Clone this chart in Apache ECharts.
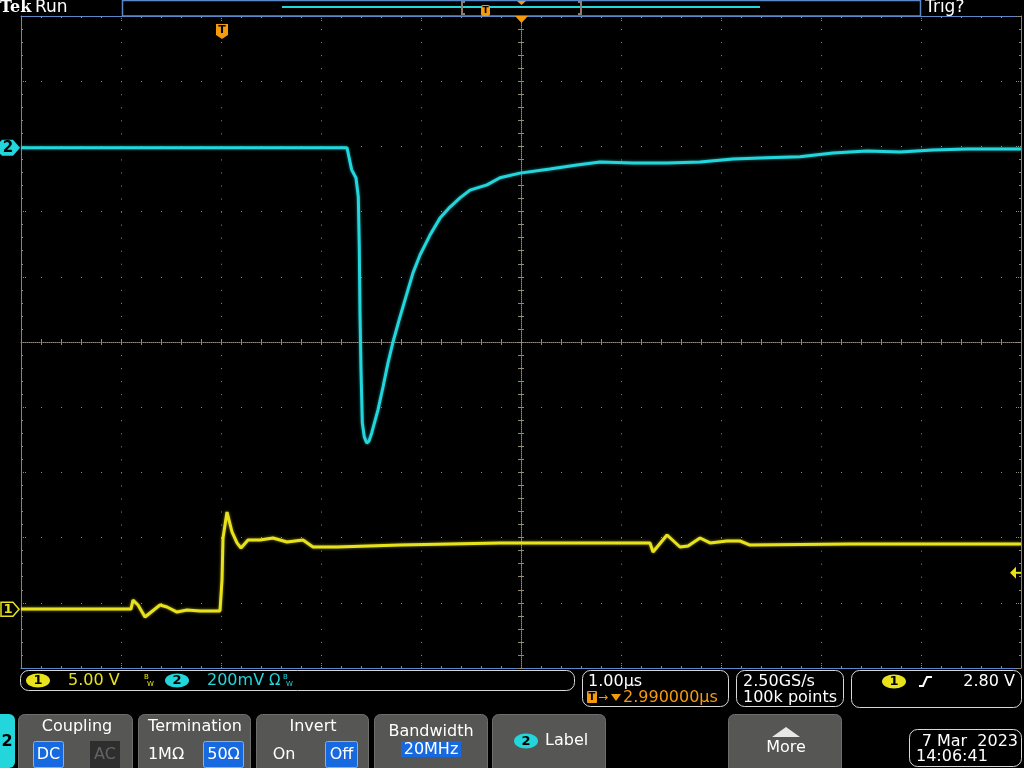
<!DOCTYPE html>
<html><head><meta charset="utf-8">
<script src="https://cdn.jsdelivr.net/npm/echarts@6/dist/echarts.min.js"></script>
<style>html,body{margin:0;padding:0;background:#000;}#c{width:1024px;height:768px;}</style>
</head><body><div id="c"></div><script>
// ---- data (time in µs relative to trigger) ----
const ch1Time  = [-2.0,-1.0,-0.9,-0.88,-0.83,-0.76,-0.71,-0.61,-0.54,-0.44,-0.34,-0.21,-0.01,0.01,0.02,0.06,0.11,0.16,0.20,0.27,0.39,0.52,0.66,0.82,0.92,1.16,1.79,2.79,3.79,4.29,4.32,4.46,4.59,4.67,4.79,4.89,5.06,5.19,5.29,6.29,8.0];
const ch1Volts = [0.02,0.02,0.02,0.71,0.33,-0.59,-0.28,0.33,0.18,-0.21,-0.05,-0.13,-0.13,2.25,5.47,7.46,5.93,5.09,4.70,5.32,5.32,5.47,5.16,5.32,4.78,4.78,4.93,5.09,5.09,5.09,4.39,5.70,4.78,4.86,5.47,5.09,5.24,5.24,4.93,5.01,5.01];
const ch2Time  = [-2.0,0,1.0,1.26,1.267,1.307,1.35,1.357,1.373,1.383,1.39,1.40,1.413,1.433,1.457,1.48,1.507,1.57,1.62,1.67,1.72,1.79,1.86,1.92,1.99,2.09,2.19,2.29,2.39,2.49,2.66,2.79,2.99,3.29,3.56,3.79,4.12,4.46,4.79,5.12,5.46,5.79,6.12,6.46,6.79,7.12,7.46,8.0];
const ch2mV    = [0,0,0,0,-4,-68,-93,-99,-151,-305,-507,-682,-844,-887,-906,-900,-875,-804,-734,-660,-596,-519,-446,-384,-329,-268,-216,-182,-154,-130,-114,-92,-78,-65,-53,-44,-47,-47,-44,-35,-31,-28,-16,-10,-13,-7,-4,-4];
const ch1Scale = 5;      // V/div
const ch2Scale = 200;    // mV/div
const ch1Pos = -4.1;     // div
const ch2Pos = 2.98;     // div
const trigLevel = 2.80;  // V on ch1
const timeMin = -2, timeMax = 8;   // µs
const divMin = -5, divMax = 5;

const ch1Data = ch1Time.map((t,i)=>[t, ch1Pos + ch1Volts[i]/ch1Scale]);
const ch2Data = ch2Time.map((t,i)=>[t, ch2Pos + ch2mV[i]/ch2Scale]);

const dotColor = '#948a79';
const borderColor = '#5a88c8';
const cyan = '#22d6dc';
const yellow = '#e8e21c';
const orange = '#f59a0c';
const FONT = "'DejaVu Sans', sans-serif";

function baseX(extra){
  return Object.assign({type:'value',min:timeMin,max:timeMax,interval:1,
    axisLabel:{show:false},splitLine:{show:false}}, extra);
}
function baseY(extra){
  return Object.assign({type:'value',min:divMin,max:divMax,interval:1,
    axisLabel:{show:false},splitLine:{show:false}}, extra);
}
const chart = echarts.init(document.getElementById('c'), null, {renderer:'canvas'});
const option = {
  backgroundColor:'#000',
  animation:false,
  grid:{left:21,top:16,width:1000,height:652,containLabel:false},
  xAxis:[
    baseX({position:'bottom',
      axisLine:{onZero:false,lineStyle:{color:borderColor,width:1}},
      axisTick:{show:true,inside:true,length:5,lineStyle:{color:dotColor,type:[1,1]}},
      minorTick:{show:true,splitNumber:5,length:2,lineStyle:{color:dotColor}},
      splitLine:{show:true,lineStyle:{color:dotColor,width:1,type:[1,12.04]}}}),
    baseX({position:'top',
      axisLine:{onZero:false,lineStyle:{color:borderColor,width:1}},
      axisTick:{show:true,inside:true,length:5,lineStyle:{color:dotColor,type:[1,1]}},
      minorTick:{show:true,splitNumber:5,length:2,lineStyle:{color:dotColor}}}),
    baseX({position:'bottom',offset:-326,
      axisLine:{show:true,onZero:false,lineStyle:{color:dotColor,width:1,type:[1,1]}},
      axisTick:{show:true,inside:true,length:3,lineStyle:{color:dotColor}},
      minorTick:{show:true,splitNumber:5,length:3,lineStyle:{color:dotColor}}}),
    baseX({position:'bottom',offset:-326,
      axisLine:{show:false,onZero:false},
      axisTick:{show:true,inside:false,length:3,lineStyle:{color:dotColor}},
      minorTick:{show:true,splitNumber:5,length:3,lineStyle:{color:dotColor}}})
  ],
  yAxis:[
    baseY({position:'left',
      axisLine:{onZero:false,lineStyle:{color:borderColor,width:1}},
      axisTick:{show:true,inside:true,length:5,lineStyle:{color:dotColor,type:[1,1]}},
      minorTick:{show:true,splitNumber:5,length:2,lineStyle:{color:dotColor}},
      splitLine:{show:true,lineStyle:{color:dotColor,width:1,type:[1,19]}}}),
    baseY({position:'right',
      axisLine:{onZero:false,lineStyle:{color:borderColor,width:1}},
      axisTick:{show:true,inside:true,length:5,lineStyle:{color:dotColor,type:[1,1]}},
      minorTick:{show:true,splitNumber:5,length:2,lineStyle:{color:dotColor}}}),
    baseY({position:'left',offset:-500,
      axisLine:{show:true,onZero:false,lineStyle:{color:dotColor,width:1,type:[1,1]}},
      axisTick:{show:true,inside:true,length:3,lineStyle:{color:dotColor}},
      minorTick:{show:true,splitNumber:5,length:3,lineStyle:{color:dotColor}}}),
    baseY({position:'left',offset:-500,
      axisLine:{show:false,onZero:false},
      axisTick:{show:true,inside:false,length:3,lineStyle:{color:dotColor}},
      minorTick:{show:true,splitNumber:5,length:3,lineStyle:{color:dotColor}}})
  ],
  series:[
    {name:'CH1',type:'line',xAxisIndex:0,yAxisIndex:0,data:ch1Data,showSymbol:false,z:5,
      lineStyle:{color:yellow,width:3,shadowColor:'rgba(232,226,28,0.6)',shadowBlur:3}},
    {name:'CH2',type:'line',xAxisIndex:0,yAxisIndex:0,data:ch2Data,showSymbol:false,z:6,
      lineStyle:{color:cyan,width:3,shadowColor:'rgba(34,214,220,0.6)',shadowBlur:3}}
  ]
};
chart.setOption(option);

// ---- UI chrome ----
const g = [];
function rect(x,y,w,h,fill,stroke,r,lw){g.push({type:'rect',z:100,shape:{x,y,width:w,height:h,r:r||0},style:{fill:fill||'none',stroke:stroke||null,lineWidth:lw||1}});}
function text(x,y,s,color,size,align,weight,font){g.push({type:'text',z:101,x,y,style:{text:s,fill:color,font:(weight||'normal')+' '+size+'px '+(font||FONT),align:align||'left',verticalAlign:'middle'}});}
function poly(pts,fill){g.push({type:'polygon',z:100,shape:{points:pts},style:{fill}});}
function pline(pts,stroke,lw){g.push({type:'polyline',z:100,shape:{points:pts},style:{stroke,lineWidth:lw||1,fill:null}});}
function ellipse(cx,cy,rx,ry,fill){g.push({type:'ellipse',z:100,shape:{cx,cy,rx,ry},style:{fill}});}

// top bar
text(0,8,'Tek','#ffffff',16,'left','bold',"'DejaVu Serif', serif");
text(35,8,'Run','#ffffff',17,'left');
rect(122.5,0.5,798,15.5,'#000',borderColor,0,1.5);
pline([[282,7],[760,7]],cyan,2);
pline([[465,2],[462,2],[462,14],[465,14]],'#8a8070',2);
pline([[578,2],[581,2],[581,14],[578,14]],'#8a8070',2);
rect(481,5,9,11,orange,null,2);
text(485.5,10.5,'T','#000',9,'center','bold');
poly([[517,1],[526,1],[521.5,5]],orange);
poly([[515,16],[528,16],[521.5,23]],orange);
text(925,8,'Trig?','#ffffff',17,'left');
// trigger position marker
poly([[216,24],[228,24],[228,35],[222,39],[216,35]],orange);
text(222,30,'T','#000',11,'center','bold');

// channel markers
const y2 = chart.convertToPixel({yAxisIndex:0}, ch2Pos);
const y1 = chart.convertToPixel({yAxisIndex:0}, ch1Pos);
const yT = chart.convertToPixel({yAxisIndex:0}, ch1Pos + trigLevel/ch1Scale);
poly([[2,y2-8],[13,y2-8],[20,y2],[13,y2+8],[2,y2+8],[0,y2+6],[0,y2-6]],cyan);
text(8,y2+0.5,'2','#000',15,'center','bold');
g.push({type:'polygon',z:100,shape:{points:[[1,y1-7],[13,y1-7],[19,y1],[13,y1+7],[1,y1+7]]},style:{fill:'#000',stroke:yellow,lineWidth:1.5}});
text(8,y1+0.5,'1',yellow,13,'center','bold');
poly([[1010,yT],[1016,yT-6],[1016,yT+6]],yellow);
pline([[1016,yT],[1021,yT]],yellow,2);

// status row
rect(20.5,670.5,554,20,null,'#d8d8d8',8,1);
ellipse(38,680.5,12,7,yellow);
text(38,681,'1','#000',13,'center','bold');
text(68,681,'5.00 V',yellow,16,'left');
text(144,677,'B',yellow,7,'left');
text(147,684,'W',yellow,7,'left');
ellipse(177,680.5,12,7,cyan);
text(177,681,'2','#000',13,'center','bold');
text(207,681,'200mV',cyan,16,'left');
text(269,681,'Ω',cyan,15,'left');
text(283,677,'B',cyan,7,'left');
text(286,684,'W',cyan,7,'left');

rect(582.5,670.5,146,36,null,'#d8d8d8',8,1);
text(588,682,'1.00µs','#ffffff',16,'left');
rect(587,691,10,12,orange,null,1);
text(592,697.5,'T','#000',10,'center','bold');
text(598,698,'→',orange,12,'left');
poly([[611,694],[621,694],[616,701]],orange);
text(623,698,'2.990000µs',orange,16,'left');

rect(736.5,670.5,107,36,null,'#d8d8d8',8,1);
text(743,682,'2.50GS/s','#ffffff',16,'left');
text(743,698,'100k points','#ffffff',16,'left');

rect(851.5,670.5,170,37,null,'#d8d8d8',8,1);
ellipse(894,681.5,12,7,yellow);
text(894,682,'1','#000',13,'center','bold');
pline([[919,686],[923,686],[927,677],[932,677]],'#ffffff',2);
text(1015,682,'2.80 V','#ffffff',16,'right');

// side tab
g.push({type:'rect',z:100,shape:{x:0,y:714,width:15,height:54,r:[0,6,6,0]},style:{fill:cyan}});
text(7,742,'2','#000',16,'center','bold');

// buttons
const btnFill='#565654', btnStroke='#6e6e6c';
function button(x,w){g.push({type:'rect',z:100,shape:{x:x+0.5,y:714.5,width:w,height:60,r:6},style:{fill:btnFill,stroke:btnStroke,lineWidth:1}});}
function selBox(x,y,w,h,label){rect(x+0.5,y+0.5,w,h,'#1769e0','#7ab0ff',2,1);text(x+w/2+0.5,y+h/2+1,label,'#ffffff',16,'center');}
button(18,114);
text(77,727,'Coupling','#ffffff',16,'center');
selBox(33,741,30,26,'DC');
rect(90,741,30,27,'#2e2e2e',null,0);
text(105,755,'AC','#646464',16,'center');

button(138,112);
text(195,727,'Termination','#ffffff',16,'center');
text(166,755,'1MΩ','#ffffff',16,'center');
selBox(203,741,40,26,'50Ω');

button(256,112);
text(313,727,'Invert','#ffffff',16,'center');
text(284,755,'On','#ffffff',16,'center');
selBox(325,741,32,26,'Off');

button(374,113);
text(431,732,'Bandwidth','#ffffff',16,'center');
rect(401,741,60,16,'#1769e0',null,0);
text(431,749.5,'20MHz','#ffffff',16,'center');

button(492,113);
ellipse(526,741,12,7.5,cyan);
text(526,741.5,'2','#000',13,'center','bold');
text(545,741,'Label','#ffffff',16,'left');

button(728,113);
poly([[772,737],[800,737],[786,727]],'#e8e8e8');
text(786,748,'More','#ffffff',16,'center');

rect(909.5,729.5,112,37,'#000','#d8d8d8',8,1);
text(1018,742,'7 Mar  2023','#ffffff',16,'right');
text(916,757,'14:06:41','#ffffff',16,'left');

chart.setOption({graphic:{elements:g}});
</script></body></html>
